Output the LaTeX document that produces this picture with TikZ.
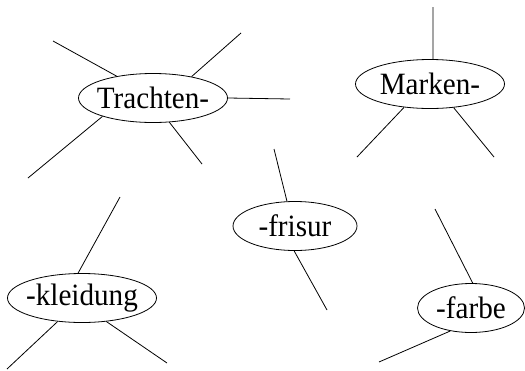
\documentclass[tikz,border=0pt]{standalone}
\usepackage{fontspec}
\setmainfont{Liberation Serif}[FakeStretch=0.94]
\usetikzlibrary{shapes.geometric}
\newcommand{\lbl}[1]{\makebox[0pt]{#1}}
\begin{document}
\begin{tikzpicture}[x=1pt,y=-1pt,
  bubble/.style={draw,ellipse,inner sep=0pt,line width=0.8pt,font=\fontsize{31}{32}\selectfont,minimum height=49pt},
  spoke/.style={draw,line width=0.8pt}]
\useasboundingbox (0,0) rectangle (525,370);
% nodes
\node[bubble,minimum width=149pt] (tr) at (153,98) {\lbl{Trachten-}};
\node[bubble,minimum width=149pt] (ma) at (430,84) {\lbl{Marken-}};
\node[bubble,minimum width=149pt] (kl) at (82,298) {\lbl{-kleidung}};
\node[bubble,minimum width=124pt] (fr) at (295,226) {\lbl{-frisur}};
\node[bubble,minimum width=107pt] (fa) at (471,308) {\lbl{-farbe}};
% free ends
\coordinate (tr1) at (53,41);
\coordinate (tr2) at (241,33);
\coordinate (tr3) at (290,99);
\coordinate (tr4) at (28,178);
\coordinate (tr5) at (202,164);
\coordinate (ma1) at (433,7);
\coordinate (ma2) at (357,157);
\coordinate (ma3) at (494,157);
\coordinate (kl1) at (120,197);
\coordinate (kl2) at (7,369);
\coordinate (kl3) at (167,363);
\coordinate (fr1) at (274,149);
\coordinate (fr2) at (327,310);
\coordinate (fa1) at (435,209);
\coordinate (fa2) at (379,362);
% spokes
\path[spoke] (tr1) -- (tr.149);
\path[spoke] (tr2) -- (tr.29);
\path[spoke] (tr3) -- (tr.0);
\path[spoke] (tr4) -- (tr.200);
\path[spoke] (tr5) -- (tr.304);
\path[spoke] (ma1) -- (ma.83);
\path[spoke] (ma2) -- (ma.222);
\path[spoke] (ma3) -- (ma.315);
\path[spoke] (kl1) -- (kl.99);
\path[spoke] (kl2) -- (kl.224);
\path[spoke] (kl3) -- (kl.316);
\path[spoke] (fr1) -- (fr.108);
\path[spoke] (fr2) -- (fr.268);
\path[spoke] (fa1) -- (fa.86);
\path[spoke] (fa2) -- (fa.228);
\end{tikzpicture}
\end{document}
